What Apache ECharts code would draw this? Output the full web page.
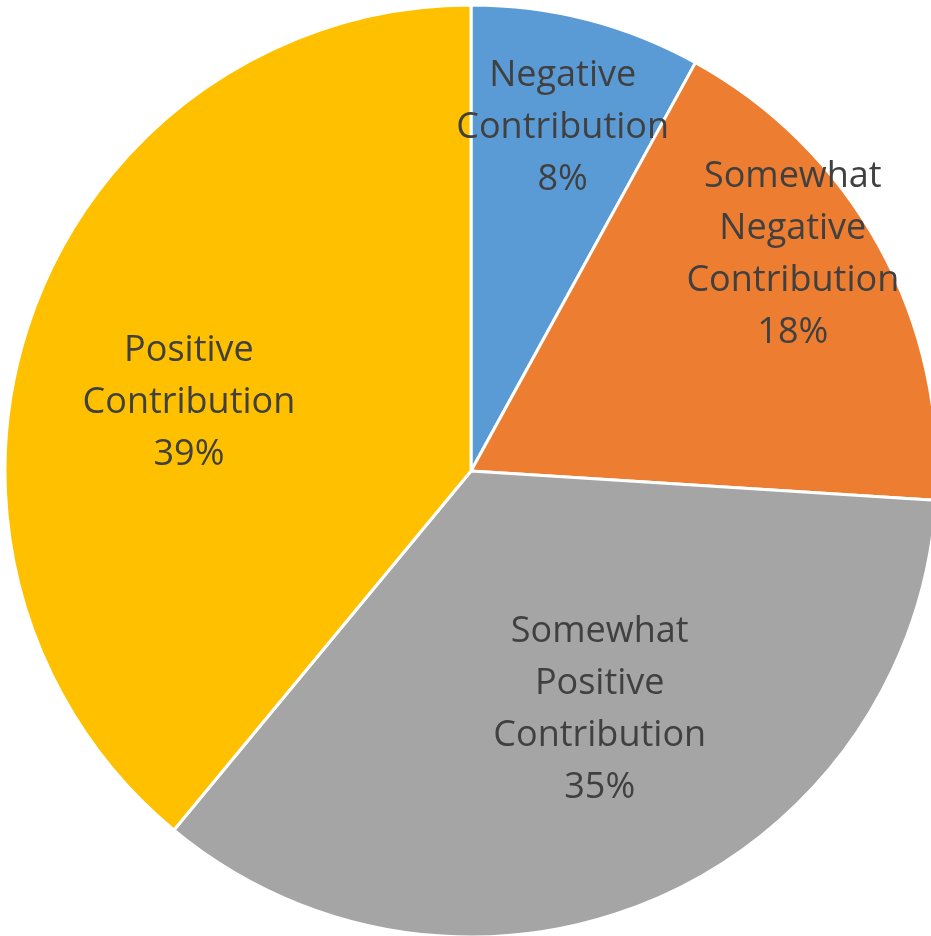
<!DOCTYPE html>
<html><head><meta charset="utf-8">
<script src="https://cdn.jsdelivr.net/npm/echarts@6/dist/echarts.min.js"></script>
<style>html,body{margin:0;padding:0;background:#fff}#c{width:931px;height:936px}</style>
</head><body><div id="c"></div>
<script>
const categories = ['Negative\nContribution', 'Somewhat\nNegative\nContribution', 'Somewhat\nPositive\nContribution', 'Positive\nContribution'];
const values = [8, 18, 35, 39];
const colors = ['#5B9BD5', '#ED7D31', '#A5A5A5', '#FFC000'];
// label nudges from the default inside position
const labelDx = [33, 115, 35, -60];
const labelDy = [-115, -103, 22, 12];

const chart = echarts.init(document.getElementById('c'), null, {renderer: 'canvas'});
chart.setOption({
  animation: false,
  series: [{
    type: 'pie',
    center: [471, 471],
    radius: [0, 466],
    startAngle: 90,
    clockwise: true,
    data: categories.map((n, i) => ({name: n, value: values[i], itemStyle: {color: colors[i]}})),
    itemStyle: {borderColor: '#fff', borderWidth: 3},
    label: {
      position: 'inside',
      formatter: '{b}\n{d}%',
      color: '#404040',
      fontFamily: 'Open Sans',
      fontSize: 36,
      lineHeight: 52,
      align: 'center'
    },
    labelLayout: function (p) { return {dx: labelDx[p.dataIndex], dy: labelDy[p.dataIndex]}; },
    emphasis: {disabled: true}
  }]
});
</script></body></html>
